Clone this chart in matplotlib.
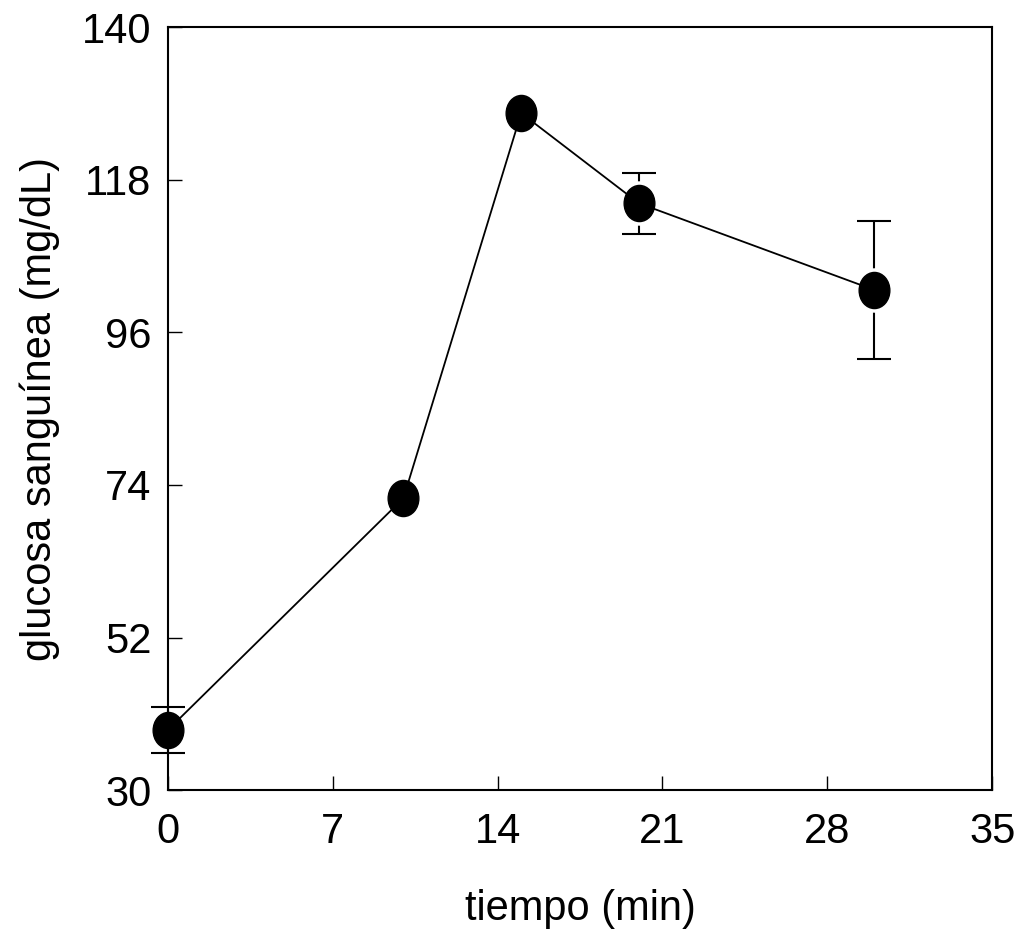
import numpy as np
import matplotlib.pyplot as plt
from matplotlib.path import Path

plt.rcParams['font.family'] = ['Liberation Sans', 'DejaVu Sans']

# data
tiempo = [0, 10, 15, 20, 30]
glucosa = [38.7, 72.1, 127.6, 114.6, 102.1]
error = [3.3, 0, 0, 4.4, 10.0]

xticks = [0, 7, 14, 21, 28, 35]
yticks = [30, 52, 74, 96, 118, 140]

# slightly tall ellipse marker
circ = Path.unit_circle()
elipse = Path(circ.vertices * np.array([0.85, 1.0]), circ.codes)

fig = plt.figure(figsize=(10.15, 9.33), dpi=100)
ax = fig.add_axes([0.1655, 0.153, 0.812, 0.818])

# error bars, with a small white halo so they stop short of the markers
eb = ax.errorbar(tiempo, glucosa, yerr=error, fmt='none', ecolor='black',
                 elinewidth=1.5, capsize=12, capthick=1.5, zorder=2)
for art in eb.lines[1] + eb.lines[2]:
    art.set_clip_on(False)
ax.plot(tiempo[1:], glucosa[1:], ls='none', marker=elipse, markersize=31,
        color='white', zorder=2.5, clip_on=False)
ax.plot(tiempo, glucosa, color='black', lw=1.3, zorder=3)
ax.plot(tiempo, glucosa, ls='none', marker=elipse, markersize=26,
        color='black', zorder=4, clip_on=False)

ax.set_xlim(0, 35)
ax.set_ylim(30, 140)
ax.set_xticks(xticks)
ax.set_yticks(yticks)
ax.tick_params(direction='in', length=10, width=1, labelsize=30, pad=12)
ax.tick_params(axis='x', pad=16)
for s in ax.spines.values():
    s.set_linewidth(1.5)
    s.set_zorder(1)

ax.set_xlabel('tiempo (min)', fontsize=30, labelpad=26)
ax.set_ylabel('glucosa sanguínea (mg/dL)', fontsize=30, labelpad=16)

fig.savefig('out.png', dpi=100)
